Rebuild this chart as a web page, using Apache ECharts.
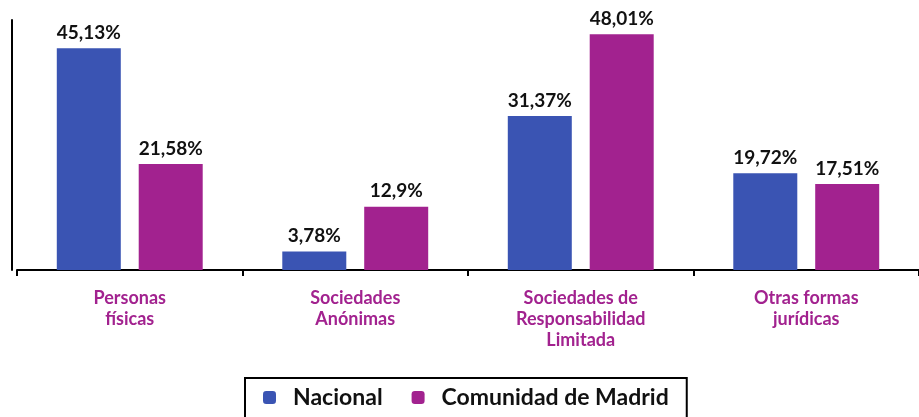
<!DOCTYPE html>
<html>
<head>
<meta charset="utf-8">
<script src="https://cdn.jsdelivr.net/npm/echarts@6/dist/echarts.min.js"></script>
<style>
  html, body { margin: 0; padding: 0; background: #ffffff; }
  #chart { width: 919px; height: 417px; }
</style>
</head>
<body>
<div id="chart"></div>
<script>
// DATA
var categorias = [
  "Personas\nfísicas",
  "Sociedades\nAnónimas",
  "Sociedades de\nResponsabilidad\nLimitada",
  "Otras formas\njurídicas"
];
var nacional = [45.13, 3.78, 31.37, 19.72];
var madrid = [21.58, 12.9, 48.01, 17.51];
var nombres = ["Nacional", "Comunidad de Madrid"];

var AZUL = "#3a54b3";
var MAGENTA = "#a2228f";
var FUENTE = "Lato, 'Noto Sans', sans-serif";

function etiqueta(p) {
  return String(p.value).replace(".", ",") + "%";
}

var estiloEtiqueta = {
  show: true, position: "top", distance: 6, formatter: etiqueta,
  fontFamily: FUENTE, fontSize: 19, fontWeight: "bold", color: "#111"
};

// CHART
var chart = echarts.init(document.getElementById("chart"));

chart.setOption({
  animation: false,
  grid: { left: 17, right: -12, top: 20, height: 250 },
  legend: {
    data: nombres,
    top: 378,
    left: 245,
    itemWidth: 13,
    itemHeight: 13,
    itemGap: 29,
    padding: [8, 18, 30, 18],
    borderColor: "#000",
    borderWidth: 2,
    textStyle: {
      fontFamily: FUENTE, fontSize: 23, fontWeight: "bold", color: "#111",
      padding: [0, 0, 0, 12]
    }
  },
  xAxis: {
    type: "category",
    data: categorias,
    axisLine: { lineStyle: { color: "#000", width: 2 } },
    axisTick: { show: true, length: 6, lineStyle: { color: "#000", width: 2 } },
    axisLabel: {
      margin: 18,
      fontFamily: FUENTE,
      fontSize: 18,
      fontWeight: "bold",
      lineHeight: 21,
      color: MAGENTA,
      interval: 0
    }
  },
  yAxis: {
    type: "value",
    min: 0,
    max: 50.9,
    offset: 5,
    axisLine: { show: true, lineStyle: { color: "#000", width: 2 } },
    axisTick: { show: false },
    axisLabel: { show: false },
    splitLine: { show: false }
  },
  series: [
    {
      name: nombres[0],
      type: "bar",
      data: nacional,
      barWidth: 64,
      barGap: "28%",
      itemStyle: { color: AZUL },
      label: estiloEtiqueta
    },
    {
      name: nombres[1],
      type: "bar",
      data: madrid,
      barWidth: 64,
      itemStyle: { color: MAGENTA },
      label: estiloEtiqueta
    }
  ]
});
</script>
</body>
</html>
